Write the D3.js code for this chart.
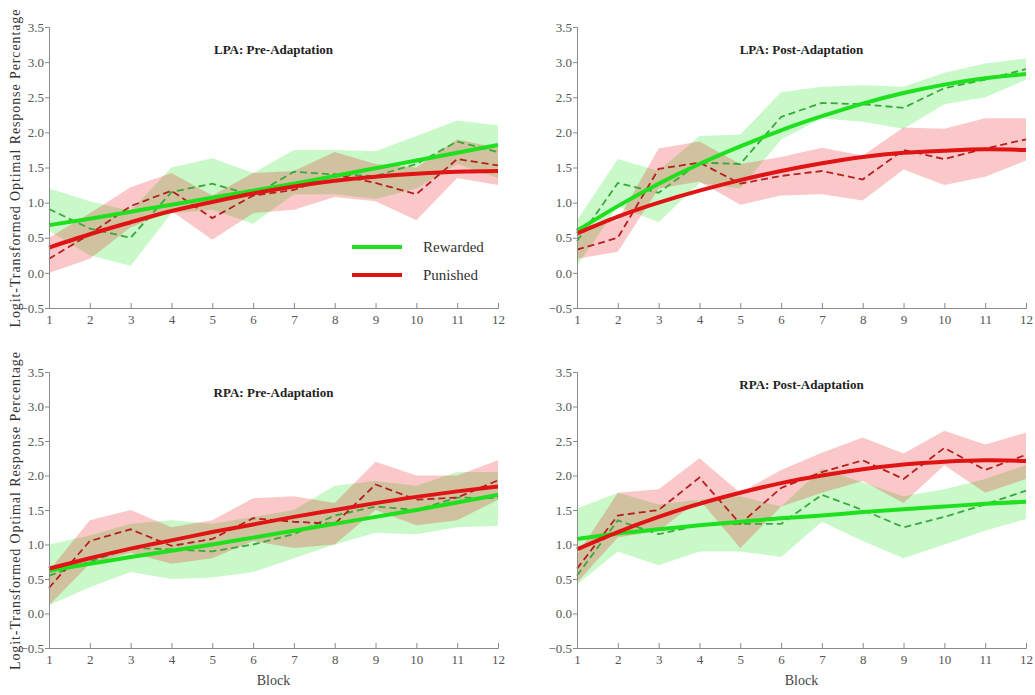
<!DOCTYPE html>
<html>
<head>
<meta charset="utf-8">
<script src="https://cdn.jsdelivr.net/npm/d3@7"></script>
<style>
  body { margin: 0; background: #fff; }
  svg { display: block; font-family: "Liberation Serif", "Times New Roman", serif; }
</style>
</head>
<body>
<svg width="1035" height="695"></svg>
<script>
// block numbers and axis ticks
var blocks = [1, 2, 3, 4, 5, 6, 7, 8, 9, 10, 11, 12];
var yTicks = [-0.5, 0, 0.5, 1, 1.5, 2, 2.5, 3, 3.5];

// LPA: Pre-Adaptation
var lpaPreRewMean = [0.91, 0.63, 0.50, 1.15, 1.27, 1.10, 1.44, 1.40, 1.38, 1.55, 1.87, 1.72];
var lpaPreRewHi   = [1.20, 1.02, 0.88, 1.50, 1.63, 1.42, 1.75, 1.75, 1.73, 1.95, 2.17, 2.10];
var lpaPreRewLo   = [0.60, 0.25, 0.10, 0.85, 0.90, 0.70, 1.12, 1.12, 1.05, 1.20, 1.55, 1.35];
var lpaPreRewFit  = [0.68, 0.77, 0.87, 0.97, 1.07, 1.17, 1.27, 1.38, 1.49, 1.60, 1.71, 1.82];
var lpaPrePunMean = [0.20, 0.55, 0.95, 1.17, 0.78, 1.10, 1.18, 1.40, 1.28, 1.12, 1.62, 1.53];
var lpaPrePunHi   = [0.50, 0.85, 1.22, 1.42, 1.10, 1.42, 1.45, 1.72, 1.55, 1.50, 1.90, 1.78];
var lpaPrePunLo   = [0.00, 0.20, 0.65, 0.88, 0.47, 0.85, 0.90, 1.08, 1.02, 0.75, 1.35, 1.25];
var lpaPrePunFit  = [0.36, 0.55, 0.72, 0.88, 1.01, 1.13, 1.23, 1.31, 1.37, 1.41, 1.44, 1.45];

// LPA: Post-Adaptation
var lpaPostRewMean = [0.45, 1.28, 1.14, 1.57, 1.55, 2.22, 2.42, 2.40, 2.35, 2.63, 2.75, 2.90];
var lpaPostRewHi   = [0.75, 1.62, 1.45, 1.95, 1.97, 2.57, 2.65, 2.67, 2.65, 2.85, 2.98, 3.05];
var lpaPostRewLo   = [0.10, 0.95, 0.72, 1.28, 1.20, 1.90, 2.20, 2.15, 2.05, 2.40, 2.50, 2.75];
var lpaPostRewFit  = [0.60, 0.95, 1.27, 1.55, 1.80, 2.03, 2.23, 2.41, 2.56, 2.68, 2.77, 2.83];
var lpaPostPunMean = [0.33, 0.50, 1.48, 1.57, 1.27, 1.38, 1.45, 1.33, 1.75, 1.62, 1.77, 1.90];
var lpaPostPunHi   = [0.65, 0.75, 1.77, 1.87, 1.55, 1.65, 1.78, 1.67, 2.07, 2.05, 2.20, 2.20];
var lpaPostPunLo   = [0.20, 0.30, 1.20, 1.30, 0.97, 1.10, 1.12, 1.03, 1.47, 1.25, 1.37, 1.60];
var lpaPostPunFit  = [0.56, 0.80, 1.00, 1.17, 1.32, 1.45, 1.56, 1.65, 1.71, 1.74, 1.76, 1.75];

// RPA: Pre-Adaptation
var rpaPreRewMean = [0.55, 0.75, 0.95, 0.93, 0.90, 1.00, 1.15, 1.42, 1.55, 1.50, 1.68, 1.67];
var rpaPreRewHi   = [1.00, 1.13, 1.30, 1.35, 1.30, 1.40, 1.50, 1.85, 1.92, 1.85, 2.05, 2.05];
var rpaPreRewLo   = [0.12, 0.38, 0.60, 0.50, 0.52, 0.60, 0.80, 1.00, 1.17, 1.15, 1.25, 1.27];
var rpaPreRewFit  = [0.62, 0.72, 0.82, 0.91, 1.00, 1.10, 1.20, 1.30, 1.40, 1.50, 1.61, 1.72];
var rpaPrePunMean = [0.37, 1.05, 1.22, 0.98, 1.08, 1.38, 1.33, 1.30, 1.87, 1.65, 1.68, 1.93];
var rpaPrePunHi   = [0.62, 1.35, 1.50, 1.25, 1.35, 1.67, 1.70, 1.60, 2.20, 2.00, 2.00, 2.22];
var rpaPrePunLo   = [0.12, 0.72, 0.88, 0.72, 0.80, 1.05, 0.95, 1.00, 1.50, 1.28, 1.35, 1.65];
var rpaPrePunFit  = [0.65, 0.80, 0.94, 1.06, 1.18, 1.29, 1.40, 1.50, 1.60, 1.69, 1.77, 1.84];

// RPA: Post-Adaptation
var rpaPostRewMean = [0.55, 1.35, 1.15, 1.28, 1.30, 1.30, 1.72, 1.50, 1.25, 1.40, 1.58, 1.78];
var rpaPostRewHi   = [1.52, 1.75, 1.58, 1.65, 1.70, 1.55, 2.10, 1.90, 1.70, 1.80, 1.95, 2.15];
var rpaPostRewLo   = [0.42, 0.90, 0.70, 0.90, 0.90, 0.82, 1.33, 1.05, 0.80, 1.00, 1.20, 1.37];
var rpaPostRewFit  = [1.08, 1.16, 1.22, 1.28, 1.33, 1.38, 1.42, 1.47, 1.51, 1.55, 1.59, 1.62];
var rpaPostPunMean = [0.65, 1.42, 1.50, 1.97, 1.30, 1.82, 2.05, 2.22, 1.95, 2.40, 2.08, 2.30];
var rpaPostPunHi   = [0.85, 1.75, 1.80, 2.25, 1.75, 2.08, 2.33, 2.55, 2.32, 2.65, 2.45, 2.62];
var rpaPostPunLo   = [0.45, 1.10, 1.20, 1.65, 0.95, 1.55, 1.75, 1.92, 1.60, 2.15, 1.75, 1.95];
var rpaPostPunFit  = [0.93, 1.18, 1.40, 1.59, 1.75, 1.89, 2.00, 2.09, 2.16, 2.20, 2.22, 2.21];

var svg = d3.select("svg");

// panel layout
var panels = [
  { title: "LPA: Pre-Adaptation", x0: 49, x1: 498, y0: 27, y1: 308, titleY: 54, yLabel: true, block: false,
    rew: [lpaPreRewMean, lpaPreRewLo, lpaPreRewHi, lpaPreRewFit],
    pun: [lpaPrePunMean, lpaPrePunLo, lpaPrePunHi, lpaPrePunFit], legend: true },
  { title: "LPA: Post-Adaptation", x0: 577, x1: 1026, y0: 27, y1: 308, titleY: 54, yLabel: false, block: false,
    rew: [lpaPostRewMean, lpaPostRewLo, lpaPostRewHi, lpaPostRewFit],
    pun: [lpaPostPunMean, lpaPostPunLo, lpaPostPunHi, lpaPostPunFit] },
  { title: "RPA: Pre-Adaptation", x0: 49, x1: 498, y0: 372, y1: 648, titleY: 397, yLabel: true, block: true,
    rew: [rpaPreRewMean, rpaPreRewLo, rpaPreRewHi, rpaPreRewFit],
    pun: [rpaPrePunMean, rpaPrePunLo, rpaPrePunHi, rpaPrePunFit] },
  { title: "RPA: Post-Adaptation", x0: 577, x1: 1026, y0: 372, y1: 648, titleY: 389, yLabel: false, block: true,
    rew: [rpaPostRewMean, rpaPostRewLo, rpaPostRewHi, rpaPostRewFit],
    pun: [rpaPostPunMean, rpaPostPunLo, rpaPostPunHi, rpaPostPunFit] }
];

var green = "#1ee01e", red = "#e01414";
var serif = "'Liberation Serif', 'Times New Roman', serif";

panels.forEach(function(p) {
  var x = d3.scaleLinear().domain([1, 12]).range([p.x0, p.x1]);
  var y = d3.scaleLinear().domain([-0.5, 3.5]).range([p.y1, p.y0]);
  var g = svg.append("g");

  var area = function(lo, hi) {
    return d3.area()
      .x(function(d, i) { return x(blocks[i]); })
      .y0(function(d, i) { return y(lo[i]); })
      .y1(function(d, i) { return y(hi[i]); })(blocks);
  };
  var line = function(vals, curve) {
    return d3.line()
      .x(function(d, i) { return x(blocks[i]); })
      .y(function(d) { return y(d); })
      .curve(curve)(vals);
  };

  // shaded bands
  g.append("path").attr("d", area(p.rew[1], p.rew[2]))
    .attr("fill", "rgb(30,225,30)").attr("fill-opacity", 0.24);
  g.append("path").attr("d", area(p.pun[1], p.pun[2]))
    .attr("fill", "rgb(235,25,25)").attr("fill-opacity", 0.24);

  // block means, dashed
  g.append("path").attr("d", line(p.rew[0], d3.curveLinear))
    .attr("fill", "none").attr("stroke", "#3aa83a").attr("stroke-width", 1.8)
    .attr("stroke-dasharray", "7,4");
  g.append("path").attr("d", line(p.pun[0], d3.curveLinear))
    .attr("fill", "none").attr("stroke", "#b51f1f").attr("stroke-width", 1.8)
    .attr("stroke-dasharray", "7,4");

  // fitted curves
  g.append("path").attr("d", line(p.rew[3], d3.curveNatural))
    .attr("fill", "none").attr("stroke", green).attr("stroke-width", 4);
  g.append("path").attr("d", line(p.pun[3], d3.curveNatural))
    .attr("fill", "none").attr("stroke", red).attr("stroke-width", 4);

  // axes
  var xAxis = g.append("g").attr("transform", "translate(0," + p.y1 + ")")
    .call(d3.axisBottom(x).tickValues(blocks).tickSize(-5).tickPadding(9).tickFormat(d3.format("d")));
  var yAxis = g.append("g").attr("transform", "translate(" + p.x0 + ",0)")
    .call(d3.axisLeft(y).tickValues(yTicks).tickSize(4).tickPadding(1).tickFormat(d3.format(".1f")));
  [xAxis, yAxis].forEach(function(a) {
    a.attr("font-family", null).attr("font-size", null);
    a.select(".domain").attr("stroke", "#8a8a8a");
    a.selectAll(".tick line").attr("stroke", "#8a8a8a");
    a.selectAll(".tick text").attr("fill", "#555")
      .style("font-family", serif).style("font-size", "13px");
  });
  xAxis.selectAll(".tick text").attr("dy", "0.55em");

  // panel title
  g.append("text").attr("x", (p.x0 + p.x1) / 2).attr("y", p.titleY)
    .attr("text-anchor", "middle").attr("font-weight", "bold").attr("font-size", 13)
    .attr("fill", "#222").text(p.title);

  if (p.yLabel) {
    var cy = (p.y0 + p.y1) / 2 + 1;
    g.append("text").attr("transform", "translate(20," + cy + ") rotate(-90)")
      .attr("text-anchor", "middle").attr("font-size", 14).attr("fill", "#333")
      .attr("textLength", 318).attr("lengthAdjust", "spacing")
      .text("Logit-Transformed Optimal Response Percentage");
  }
  if (p.block) {
    g.append("text").attr("x", (p.x0 + p.x1) / 2).attr("y", 685)
      .attr("text-anchor", "middle").attr("font-size", 14).attr("fill", "#444").text("Block");
  }
  if (p.legend) {
    var lg = g.append("g");
    [["Rewarded", green, 247], ["Punished", red, 275]].forEach(function(l) {
      lg.append("line").attr("x1", 352).attr("x2", 402).attr("y1", l[2]).attr("y2", l[2])
        .attr("stroke", l[1]).attr("stroke-width", 4);
      lg.append("text").attr("x", 423).attr("y", l[2] + 5).attr("font-size", 15)
        .attr("fill", "#333").text(l[0]);
    });
  }
});
</script>
</body>
</html>
